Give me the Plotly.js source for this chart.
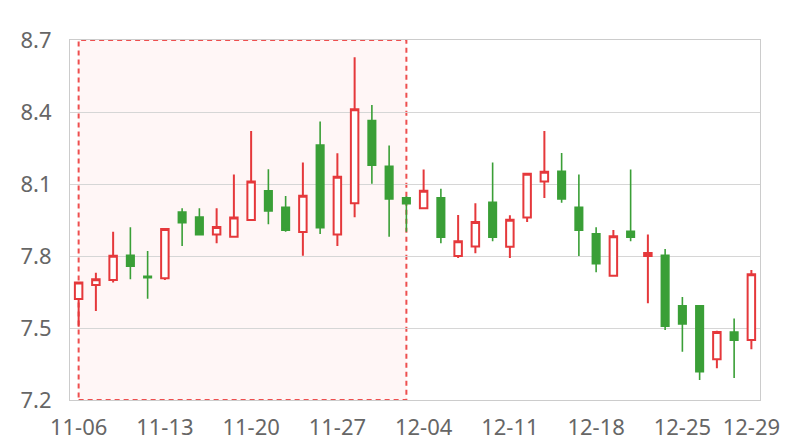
<!DOCTYPE html>
<html>
<head>
<meta charset="utf-8">
<script src="https://cdn.plot.ly/plotly-3.0.1.min.js"></script>
<style>html,body{margin:0;padding:0;background:#fff;}#chart{width:800px;height:440px;}</style>
</head>
<body>
<div id="chart"></div>
<script>
const dates = ["11-06","11-07","11-08","11-09","11-10","11-13","11-14","11-15","11-16","11-17",
               "11-20","11-21","11-22","11-23","11-24","11-27","11-28","11-29","11-30","12-01",
               "12-04","12-05","12-06","12-07","12-08","12-11","12-12","12-13","12-14","12-15",
               "12-18","12-19","12-20","12-21","12-22","12-25","12-26","12-27","12-28","12-29"];
const openV  = [7.621,7.679,7.700,7.803,7.715,7.707,7.983,7.962,7.890,7.880,
                7.950,8.072,8.003,7.900,8.262,7.890,8.020,8.364,8.174,8.043,
                7.999,8.043,7.800,7.840,8.024,7.839,7.960,8.110,8.153,8.003,
                7.893,7.718,7.903,7.800,7.803,7.593,7.593,7.370,7.483,7.450];
const closeV = [7.690,7.703,7.801,7.758,7.710,7.912,7.939,7.889,7.921,7.960,
                8.110,7.988,7.908,8.051,7.918,8.130,8.411,8.178,8.038,8.018,
                8.072,7.878,7.861,7.942,7.878,7.951,8.143,8.151,8.038,7.908,
                7.768,7.882,7.878,7.812,7.508,7.517,7.318,7.483,7.449,7.724];
const highV  = [7.690,7.730,7.901,7.920,7.821,7.913,7.999,7.999,7.999,8.140,
                8.321,8.161,8.050,8.190,8.360,8.228,8.628,8.429,8.260,8.049,
                8.160,8.080,7.971,8.020,8.190,7.970,8.143,8.321,8.229,8.140,
                7.920,7.908,8.160,7.890,7.829,7.629,7.593,7.489,7.540,7.742];
const lowV   = [7.505,7.571,7.690,7.703,7.622,7.700,7.842,7.889,7.853,7.880,
                7.950,7.932,7.901,7.801,7.892,7.842,7.961,8.101,7.880,7.901,
                7.999,7.853,7.792,7.811,7.861,7.792,7.942,8.042,8.022,7.800,
                7.732,7.718,7.861,7.603,7.492,7.401,7.283,7.332,7.292,7.411];
const tickIdx = [0,5,10,15,20,25,30,35,39];
const markStart = "11-06", markEnd = "12-01";
const yTicks = [7.2,7.5,7.8,8.1,8.4,8.7];

const RED = "#e5383b", GREEN = "#3a9f37";
const trace = {
  type: "candlestick",
  x: dates, open: openV, close: closeV, high: highV, low: lowV,
  increasing: {line: {color: RED, width: 2}, fillcolor: "#ffffff"},
  decreasing: {line: {color: GREEN, width: 1.6}, fillcolor: GREEN},
  hoverinfo: "skip"
};
const font = {family: "Noto Sans, sans-serif", size: 22, color: "#666666"};
const layout = {
  width: 800, height: 440,
  margin: {l: 70, r: 40, t: 40, b: 40},
  paper_bgcolor: "#ffffff", plot_bgcolor: "#ffffff",
  showlegend: false,
  boxgap: 0.38,
  xaxis: {
    type: "category", range: [-0.5, dates.length - 0.5],
    rangeslider: {visible: false},
    tickvals: tickIdx.map(i => dates[i]), ticktext: tickIdx.map(i => dates[i]),
    showgrid: false, showline: true, linecolor: "#cccccc", linewidth: 1, mirror: true,
    ticks: "", tickfont: font, ticklabelstandoff: 8, zeroline: false
  },
  yaxis: {
    range: [7.2, 8.7], tickvals: yTicks, ticktext: yTicks.map(v => v.toFixed(1)),
    showgrid: true, gridcolor: "#d6d6d6", gridwidth: 1,
    showline: true, linecolor: "#cccccc", linewidth: 1, mirror: true,
    ticks: "", tickfont: font, ticklabelstandoff: 13, zeroline: false
  },
  shapes: [{
    type: "rect", layer: "below", xref: "x", yref: "paper",
    x0: markStart, x1: markEnd, y0: 0, y1: 1,
    fillcolor: "rgba(255,235,235,0.45)",
    line: {color: "#ee4f4f", width: 2, dash: "5px,4px"}
  }]
};
Plotly.newPlot("chart", [trace], layout, {staticPlot: true});
</script>
</body>
</html>
